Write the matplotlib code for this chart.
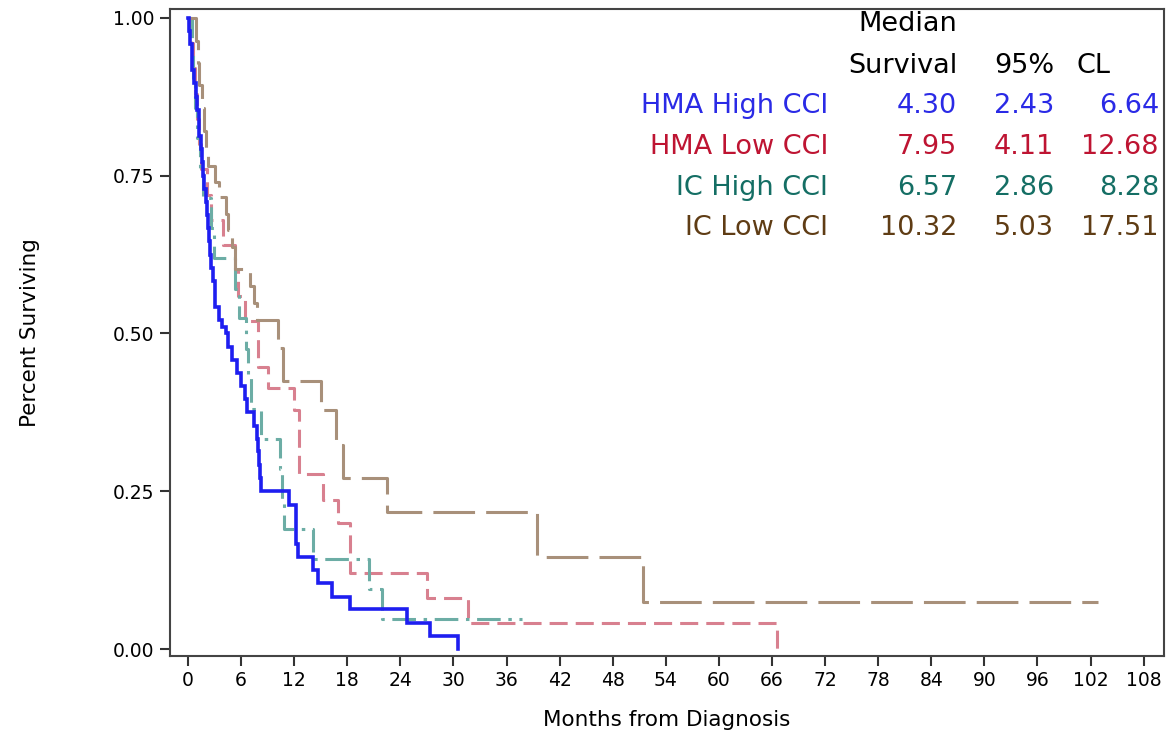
import matplotlib
matplotlib.use("Agg")
import matplotlib.pyplot as plt

plt.rcParams["lines.scale_dashes"] = False

# ---------------- data ----------------
groups = ["HMA High CCI", "HMA Low CCI", "IC High CCI", "IC Low CCI"]

hma_high_t = [0.1, 0.2, 0.4, 0.5, 0.7, 0.9, 1.0, 1.2, 1.3, 1.5, 1.6, 1.7, 1.8, 2.0,
              2.1, 2.3, 2.4, 2.5, 2.6, 2.8, 3.0, 3.1, 3.5, 3.8, 4.3, 4.5, 5.0, 5.5,
              6.0, 6.4, 6.7, 7.5, 7.8, 7.9, 8.0, 8.1, 8.3, 11.4, 12.2, 12.4, 14.1,
              14.7, 16.3, 18.3, 24.8, 27.3, 30.5]
hma_high_s = [0.979, 0.958, 0.938, 0.917, 0.896, 0.875, 0.854, 0.833, 0.813, 0.792,
              0.771, 0.750, 0.729, 0.708, 0.688, 0.667, 0.646, 0.625, 0.604, 0.583,
              0.563, 0.542, 0.521, 0.510, 0.500, 0.479, 0.458, 0.438, 0.417, 0.396,
              0.375, 0.354, 0.333, 0.313, 0.292, 0.271, 0.250, 0.229, 0.167, 0.146,
              0.125, 0.104, 0.083, 0.063, 0.042, 0.021, 0.0]
hma_high_end = 30.5

hma_low_t = [0.3, 0.6, 0.8, 1.0, 1.3, 1.5, 2.2, 2.6, 4.0, 5.3, 5.7, 6.4, 7.9, 9.0,
             12.0, 12.5, 15.3, 16.9, 18.3, 27.0, 31.6, 66.6]
hma_low_s = [0.96, 0.92, 0.88, 0.84, 0.80, 0.76, 0.72, 0.68, 0.64, 0.60, 0.56, 0.52,
             0.447, 0.414, 0.379, 0.277, 0.236, 0.20, 0.12, 0.081, 0.041, 0.0]
hma_low_end = 66.6

ic_high_t = [0.4, 0.6, 0.8, 1.0, 1.4, 1.7, 2.6, 2.9, 5.3, 5.8, 6.6, 6.8, 7.1, 8.3,
             10.4, 10.6, 10.9, 14.1, 20.5, 21.9]
ic_high_s = [0.952, 0.905, 0.857, 0.810, 0.762, 0.714, 0.667, 0.619, 0.571, 0.524,
             0.476, 0.429, 0.381, 0.333, 0.286, 0.238, 0.190, 0.143, 0.095, 0.048]
ic_high_end = 37.7

ic_low_t = [0.9, 1.1, 1.3, 1.6, 1.8, 2.0, 2.3, 3.0, 3.5, 4.3, 4.5, 5.0, 5.3, 7.0,
            7.5, 7.8, 10.2, 10.7, 15.0, 16.7, 17.5, 22.5, 39.4, 51.4]
ic_low_s = [0.964, 0.929, 0.893, 0.857, 0.821, 0.79, 0.765, 0.74, 0.716, 0.69,
            0.664, 0.637, 0.602, 0.575, 0.548, 0.521, 0.477, 0.425, 0.379, 0.323,
            0.271, 0.217, 0.146, 0.0745]
ic_low_end = 102.8

median_surv = ["4.30", "7.95", "6.57", "10.32"]
cl_low = ["2.43", "4.11", "2.86", "5.03"]
cl_high = ["6.64", "12.68", "8.28", "17.51"]

x_ticks = list(range(0, 109, 6))
y_ticks = [0.0, 0.25, 0.50, 0.75, 1.00]
y_ticklabels = ["0.00", "0.25", "0.50", "0.75", "1.00"]

# ---------------- figure ----------------
W, H = 1176, 741
fig = plt.figure(figsize=(W / 100, H / 100), dpi=100)
ax = fig.add_axes([170 / W, (H - 656) / H, (1164 - 170) / W, (656 - 9) / H])

line_colors = ["#1e1ef0", "#d8808f", "#6cada5", "#a8907a"]
text_colors = ["#2a2ae6", "#be1432", "#146e64", "#5f3c14"]
dashes = [None, (13, 5.8), (17, 5.5, 2.5, 5.5), (30, 8)]
widths = [2.6, 2.2, 2.2, 2.2]

series = [
    (hma_high_t, hma_high_s, hma_high_end),
    (hma_low_t, hma_low_s, hma_low_end),
    (ic_high_t, ic_high_s, ic_high_end),
    (ic_low_t, ic_low_s, ic_low_end),
]

order = [1, 2, 3, 0]
for i in order:
    t, s, end = series[i]
    xs = [0.0] + list(t)
    ys = [1.0] + list(s)
    if end > xs[-1]:
        xs.append(end)
        ys.append(ys[-1])
    ln, = ax.step(xs, ys, where="post", color=line_colors[i], lw=widths[i],
                  solid_joinstyle="miter", zorder=3 if i == 0 else 2)
    if dashes[i] is not None:
        ln.set_dashes(dashes[i])
        ln.set_dash_capstyle("butt")

ax.set_xlim(-2.03, 110.3)
ax.set_ylim(-0.011, 1.014)
ax.set_xticks(x_ticks)
ax.set_xticklabels([str(v) for v in x_ticks])
ax.set_yticks(y_ticks)
ax.set_yticklabels(y_ticklabels)
ax.tick_params(axis="both", direction="out", length=7, width=1.5, colors="#333333",
               labelsize=13.5, labelcolor="black", pad=4)
for sp in ax.spines.values():
    sp.set_linewidth(1.5)
    sp.set_color("#444444")

ax.set_xlabel("Months from Diagnosis", fontsize=15.5, labelpad=14)
ax.set_ylabel("Percent Surviving", fontsize=15.5)
ax.yaxis.set_label_coords((40 - 170) / 994, 0.5)

# ---------------- median survival table ----------------
def fx(px):
    return px / W

def fy(py):
    return 1 - py / H

fs = 19.5
fig.text(fx(957), fy(24), "Median", ha="right", va="center", fontsize=fs, color="black")
fig.text(fx(957), fy(66), "Survival", ha="right", va="center", fontsize=fs, color="black")
fig.text(fx(1054), fy(66), "95%", ha="right", va="center", fontsize=fs, color="black")
fig.text(fx(1076), fy(66), "CL", ha="left", va="center", fontsize=fs, color="black")

row_y = [106, 147, 188, 228]
for i, g in enumerate(groups):
    c = text_colors[i]
    fig.text(fx(828), fy(row_y[i]), g, ha="right", va="center", fontsize=fs, color=c)
    fig.text(fx(957), fy(row_y[i]), median_surv[i], ha="right", va="center", fontsize=fs, color=c)
    fig.text(fx(1054), fy(row_y[i]), cl_low[i], ha="right", va="center", fontsize=fs, color=c)
    fig.text(fx(1159), fy(row_y[i]), cl_high[i], ha="right", va="center", fontsize=fs, color=c)

fig.savefig("out.png", dpi=100)
